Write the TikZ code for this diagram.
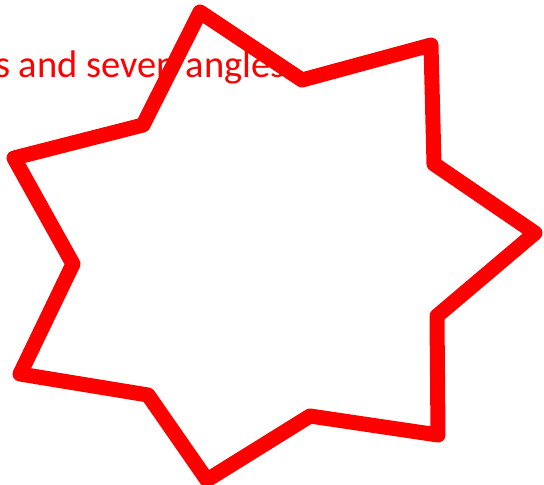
\documentclass[tikz,border=0pt]{standalone}
\usepackage{fontspec}
\setmainfont{Carlito}
\usepackage{tikz}
\usetikzlibrary{positioning}

\begin{document}
\begin{tikzpicture}[x=1pt,y=-1pt]
\useasboundingbox (0,0) rectangle (544,485);
\node (caption) at (-5,77) [anchor=base west,inner sep=0pt,text=red,font=\fontsize{38.5}{44}\selectfont] {s and seven angles};
% outer and inner points of the star, clockwise from the top
\foreach \n/\x/\y in {1/200/12,2/302/80,3/431/45,4/434/164,5/535/233,6/437/316,7/438/435,8/310/416,9/207/480,10/148/395,11/20/374,12/73/264,13/14/158,14/143/125} {
    \coordinate (p\n) at (\x,\y);
}
\draw[red,line width=15pt,line join=round] (p1) -- (p2) -- (p3) -- (p4) -- (p5) -- (p6) -- (p7) -- (p8) -- (p9) -- (p10) -- (p11) -- (p12) -- (p13) -- (p14) -- cycle;
\end{tikzpicture}
\end{document}
